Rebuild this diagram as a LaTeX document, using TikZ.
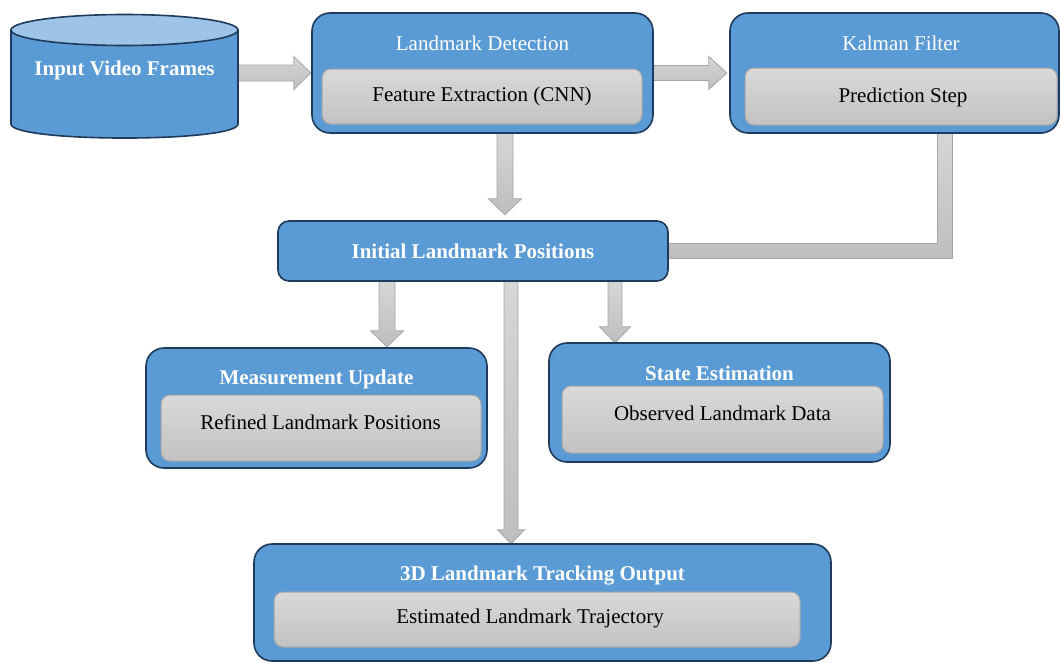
\documentclass[tikz,border=0pt]{standalone}
\usepackage{fontspec}
\setmainfont{Liberation Serif}
\usetikzlibrary{calc}
\definecolor{boxblue}{HTML}{5B9BD5}
\definecolor{boxline}{HTML}{1F3A5A}
\definecolor{toplight}{HTML}{9DC3E6}
\definecolor{gtop}{HTML}{D9D9D9}
\definecolor{gbot}{HTML}{C2C2C2}
\definecolor{gline}{HTML}{A6A6A6}
\definecolor{atop}{HTML}{D6D6D6}
\definecolor{abot}{HTML}{BEBEBE}
\newcommand\txtfont{\fontsize{21}{25}\selectfont}
\tikzset{
 outerbox/.style={draw=boxline, fill=boxblue, line width=1.6pt, rounded corners=18pt, inner sep=0pt},
 innerbox/.style={draw=gline, top color=gtop, bottom color=gbot, line width=1pt, rounded corners=9pt, inner sep=0pt},
 bodytext/.style={text=black, font=\txtfont, inner sep=0pt},
 titletext/.style={text=white, font=\txtfont, inner sep=0pt},
 boldtitle/.style={text=white, font=\txtfont\bfseries, inner sep=0pt},
 barrow/.style={draw=gline, line width=0.8pt, top color=atop, bottom color=abot},
 cylside/.style={draw=boxline, fill=boxblue, line width=1.6pt},
 cyltop/.style={draw=boxline, fill=toplight, line width=1.6pt},
}
% vertical block arrow: start, target, shaft half, head half, head length, gap
\newcommand\varrow[6]{%
 \path[barrow] let \p1=(#1), \p2=(#2) in
 (\x1-#3pt,\y1) -- (\x1+#3pt,\y1) -- (\x1+#3pt,\y2+#6pt+#5pt) -- (\x1+#4pt,\y2+#6pt+#5pt)
 -- (\x1,\y2+#6pt) -- (\x1-#4pt,\y2+#6pt+#5pt) -- (\x1-#3pt,\y2+#6pt+#5pt) -- cycle;}
% horizontal block arrow
\newcommand\harrow[6]{%
 \path[barrow] let \p1=(#1), \p2=(#2) in
 (\x1,\y1+#3pt) -- (\x2-#6pt-#5pt,\y1+#3pt) -- (\x2-#6pt-#5pt,\y1+#4pt) -- (\x2-#6pt,\y1)
 -- (\x2-#6pt-#5pt,\y1-#4pt) -- (\x2-#6pt-#5pt,\y1-#3pt) -- (\x1,\y1-#3pt) -- cycle;}
\begin{document}
\begin{tikzpicture}[x=1pt,y=-1pt]
\useasboundingbox (0,0) rectangle (1060,662);

% ---- node placement (invisible anchors first for arrows) ----
\node[minimum width=227pt, minimum height=110pt, inner sep=0pt] (cyl) at (124.5,70) {};
\path (482.5,73) node[minimum width=341pt, minimum height=120pt, inner sep=0pt] (ld) {};
\path (894.5,73) node[minimum width=329pt, minimum height=120pt, inner sep=0pt] (kf) {};
\path (473,251) node[minimum width=390pt, minimum height=60pt, inner sep=0pt] (ilp) {};
\path (316.5,408) node[minimum width=341pt, minimum height=120pt, inner sep=0pt] (mu) {};
\path (719.5,402.5) node[minimum width=341pt, minimum height=119pt, inner sep=0pt] (se) {};
\path (542.5,602.5) node[minimum width=577pt, minimum height=117pt, inner sep=0pt] (out) {};

% ---- connectors ----
\harrow{cyl.east |- ld.west}{ld.west}{8}{16.5}{17}{1}
\harrow{ld.east}{kf.west}{7.5}{16.5}{18}{3}
\varrow{$(ld.south)+(22.5,0)$}{ilp.north}{8}{16.5}{16}{6}
\varrow{$(ilp.south)+(-86,0)$}{mu.north}{8}{16.5}{16}{1}
\varrow{$(ilp.south)+(142,0)$}{se.north}{7}{15.5}{16}{0}
\varrow{$(ilp.south)+(38,0)$}{out.north}{7}{13.5}{14}{0}
\path[barrow] let \p1=($(kf.south)+(50.5,0)$), \p2=(ilp.east) in
 (\x1-7.5pt,\y1) -- (\x1+7.5pt,\y1) -- (\x1+7.5pt,\y2-7.5pt) -- (\x2,\y2-7.5pt)
 -- (\x2,\y2+7.5pt) -- (\x1-7.5pt,\y2+7.5pt) -- cycle;

% ---- cylinder ----
\path[cylside] (11,30) -- (11,124) .. controls (11,142.7) and (238,142.7) .. (238,124) -- (238,30) -- cycle;
\path[cyltop] (124.5,30) ellipse [x radius=113.5, y radius=15.5];
\node[boldtitle] (cylt) at (124.5,70) {Input Video Frames};

% ---- Landmark Detection ----
\node[outerbox, minimum width=341pt, minimum height=120pt] (ldbox) at (ld.center) {};
\node[innerbox, minimum width=320pt, minimum height=55pt] (ldin) at (482,96.5) {};
\node[titletext] (ldt) at (482.5,43) {Landmark Detection};
\node[bodytext] (ldx) at (ldin.center) {Feature Extraction (CNN)};

% ---- Kalman Filter ----
\node[outerbox, minimum width=329pt, minimum height=120pt] (kfbox) at (kf.center) {};
\node[innerbox, minimum width=312pt, minimum height=57pt] (kfin) at (901,96.5) {};
\node[titletext] (kft) at (901,43) {Kalman Filter};
\node[bodytext] (kfx) at (903,97) {Prediction Step};

% ---- Initial Landmark Positions ----
\node[outerbox, rounded corners=11pt, minimum width=390pt, minimum height=60pt] (ilpbox) at (ilp.center) {};
\node[boldtitle] (ilpt) at (ilp.center) {Initial Landmark Positions};

% ---- Measurement Update ----
\node[outerbox, minimum width=341pt, minimum height=120pt] (mubox) at (mu.center) {};
\node[innerbox, minimum width=320pt, minimum height=66pt] (muin) at (321,428) {};
\node[boldtitle] (mut) at (316.5,379) {Measurement Update};
\node[bodytext] (mux) at (320.5,422) {Refined Landmark Positions};

% ---- State Estimation ----
\node[outerbox, minimum width=341pt, minimum height=119pt] (sebox) at (se.center) {};
\node[innerbox, minimum width=321pt, minimum height=67pt] (sein) at (722.5,419.5) {};
\node[boldtitle] (set) at (719.5,373) {State Estimation};
\node[bodytext] (sex) at (722.5,413) {Observed Landmark Data};

% ---- Output ----
\node[outerbox, minimum width=577pt, minimum height=117pt] (outbox) at (out.center) {};
\node[innerbox, minimum width=526pt, minimum height=55pt] (outin) at (537,619.5) {};
\node[boldtitle] (outt) at (542.5,576) {3D Landmark Tracking Output};
\node[bodytext] (outx) at (530,618) {Estimated Landmark Trajectory};
\end{tikzpicture}
\end{document}
